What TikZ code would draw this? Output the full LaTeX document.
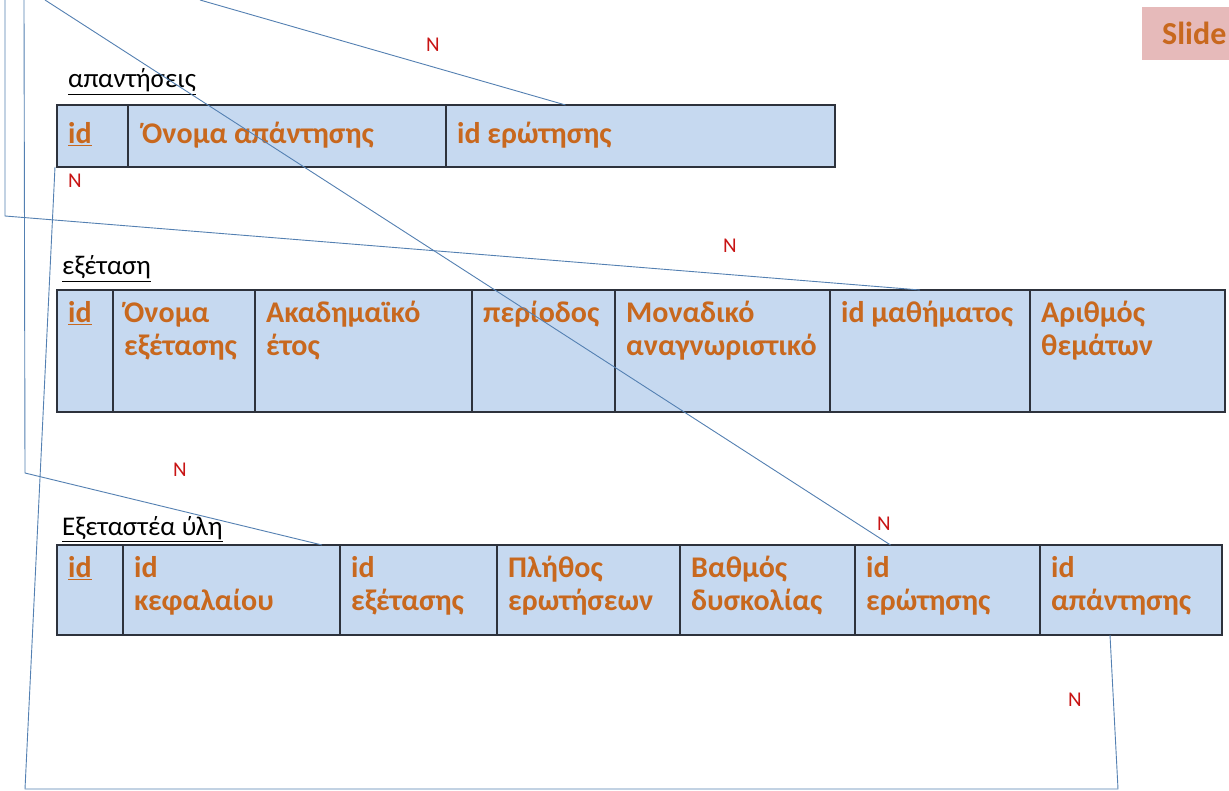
\documentclass[tikz,border=0pt]{standalone}
\usepackage{fontspec}
\setmainfont{Carlito}
\usetikzlibrary{calc}

\definecolor{cellfill}{RGB}{198,217,240}
\definecolor{cellline}{RGB}{45,50,60}
\definecolor{fieldtext}{RGB}{200,104,30}
\definecolor{linkline}{RGB}{84,128,178}
\definecolor{cardred}{RGB}{200,20,20}
\definecolor{slidefill}{RGB}{230,186,186}

\tikzset{
  cellrect/.style={draw=cellline, line width=1.4pt, fill=cellfill, inner sep=0pt, outer sep=0pt},
  celltext/.style={text=fieldtext, font=\bfseries\fontsize{30}{33}\selectfont, align=left, inner sep=0pt, anchor=north west},
  tabletitle/.style={font=\fontsize{27}{30}\selectfont, text=black, inner sep=0pt, anchor=base west},
  link/.style={draw=linkline, line width=0.9pt},
  card/.style={text=cardred, font=\fontsize{21}{24}\selectfont, inner sep=0pt},
}

% one table cell: name, left, right, top, bottom, text offset from top, text
\newcommand\tcell[7]{%
  \node[cellrect, anchor=north west, minimum width={(#3-#2)*1pt}, minimum height={(#5-#4)*1pt}] (#1) at (#2,#4) {};
  \node[celltext] (#1-t) at ([xshift=11pt,yshift=-#6pt]#1.north west) {\rule{0pt}{22pt}#7};
}

\begin{document}
\begin{tikzpicture}[x=1pt,y=-1pt]
\useasboundingbox[fill=white] (0,0) rectangle (1229,791);

% slide tag in the corner
\node[fill=slidefill, anchor=north west, minimum width=110pt, minimum height=53pt, inner sep=0pt] (tag) at (1142,7) {};
\node[text=fieldtext, font=\bfseries\fontsize{32}{34}\selectfont, anchor=base west, inner sep=0pt] (tagtext) at (1162,45) {Slide};

% table: answers
\node[tabletitle] (title1) at (68,88) {\underline{απαντήσεις}};
\tcell{a1}{57}{128}{105}{167}{16}{\underline{id}}
\tcell{a2}{128}{446}{105}{167}{16}{\hspace{3pt}Όνομα απάντησης}
\tcell{a3}{446}{835}{105}{167}{16}{id ερώτησης}

% table: exam
\node[tabletitle] (title2) at (62,275) {\underline{εξέταση}};
\tcell{e1}{57}{113}{290}{412}{10}{\underline{id}}
\tcell{e2}{113}{255}{290}{412}{10}{Όνομα\\εξέτασης}
\tcell{e3}{255}{472}{290}{412}{10}{Ακαδημαϊκό\\έτος}
\tcell{e4}{472}{615}{290}{412}{10}{περίοδος}
\tcell{e5}{615}{830}{290}{412}{10}{Μοναδικό\\αναγνωριστικό}
\tcell{e6}{830}{1030}{290}{412}{10}{id μαθήματος}
\tcell{e7}{1030}{1225}{290}{412}{10}{Αριθμός\\θεμάτων}

% table: exam material
\node[tabletitle] (title3) at (62,535) {\underline{Εξεταστέα ύλη}};
\tcell{m1}{57}{123}{545}{635}{10}{\underline{id}}
\tcell{m2}{123}{340}{545}{635}{10}{id\\κεφαλαίου}
\tcell{m3}{340}{497}{545}{635}{10}{id\\εξέτασης}
\tcell{m4}{497}{680}{545}{635}{10}{Πλήθος\\ερωτήσεων}
\tcell{m5}{680}{855}{545}{635}{10}{Βαθμός\\δυσκολίας}
\tcell{m6}{855}{1040}{545}{635}{10}{id\\ερώτησης}
\tcell{m7}{1040}{1222}{545}{635}{10}{id\\απάντησης}

% connector end points that run off the page or bend
\coordinate (in1) at (5,0);
\coordinate (bend1) at (5,216);
\coordinate (in2) at (24,0);
\coordinate (bend2) at (25,473);
\coordinate (in3) at (45,0);
\coordinate (in4) at (200,0);
\coordinate (low1) at (25,789);
\coordinate (low2) at (1118,789);

% connectors
\draw[link] (in1) -- (bend1) -- ([xshift=-10pt]e6.north);
\draw[link] (in2) -- (bend2) -- ([xshift=-18pt]m2.north east);
\draw[link] (in3) -- ([xshift=-57pt]m6.north);
\draw[link] (in4) -- ([xshift=-75pt]a3.north);
\draw[link] ([xshift=-2pt]a1.south west) -- (low1) -- (low2) -- ([xshift=-21pt]m7.south);

% cardinality marks
\node[card] (n1) at (433,45) {N};
\node[card] (n2) at (75,181) {N};
\node[card] (n3) at (730,246) {N};
\node[card] (n4) at (180,470) {N};
\node[card] (n5) at (884,524) {N};
\node[card] (n6) at (1075,700) {N};
\end{tikzpicture}
\end{document}
